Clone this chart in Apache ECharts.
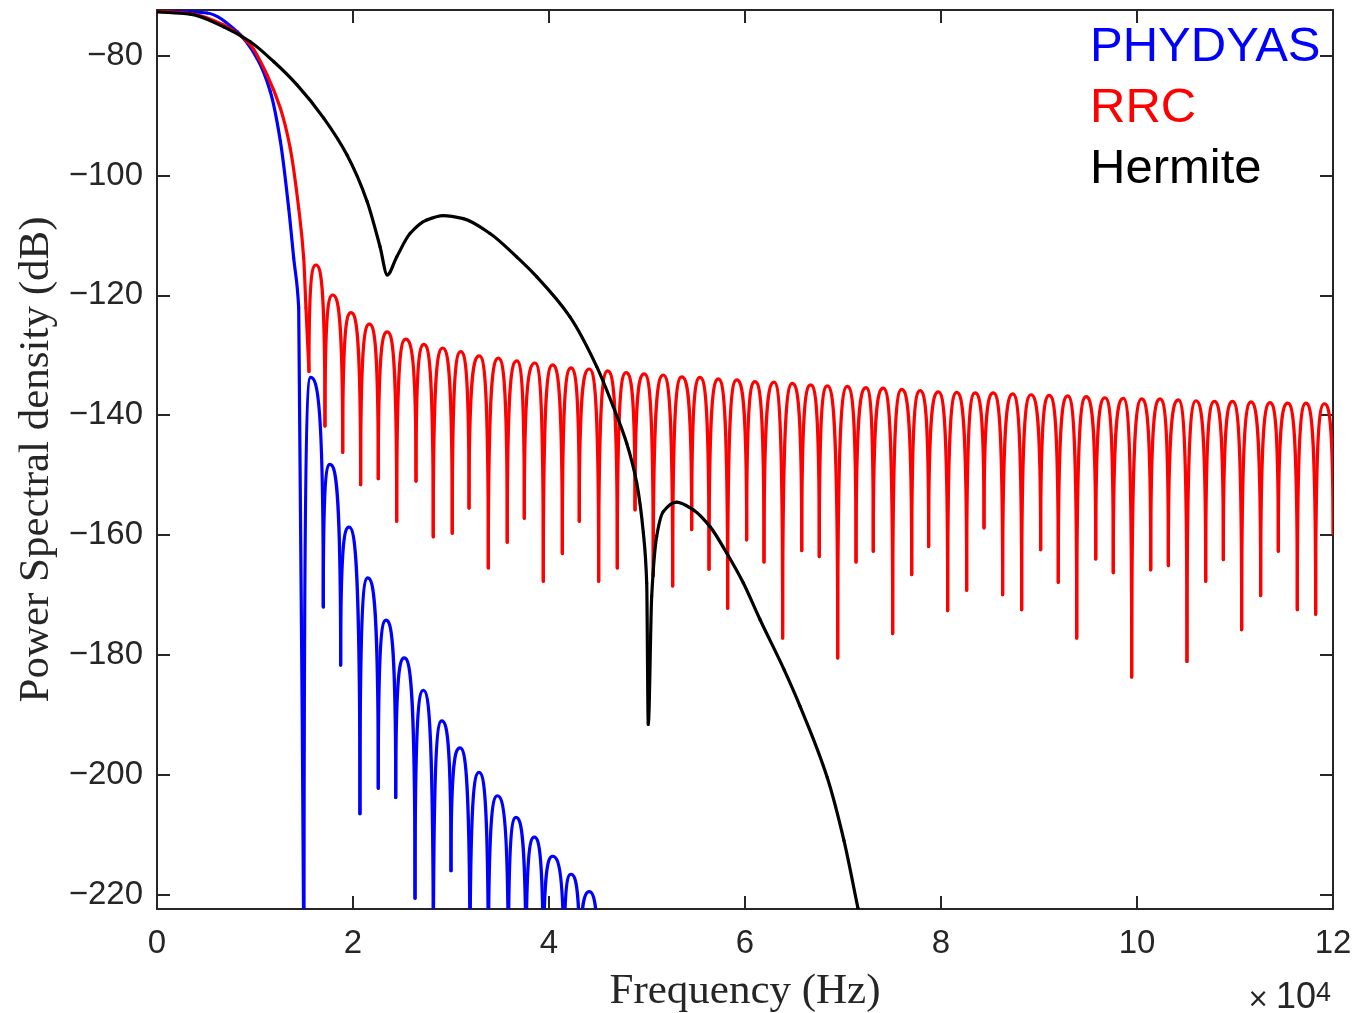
<!DOCTYPE html>
<html>
<head>
<meta charset="utf-8">
<script src="https://cdn.jsdelivr.net/npm/echarts@6/dist/echarts.min.js"></script>
<style>
  html, body { margin: 0; padding: 0; background: #ffffff; }
  #chart { width: 1357px; height: 1013px; }
</style>
</head>
<body>
<div id="chart"></div>
<script>
// Frequencies are in units of 10^4 Hz, levels in dB.

// Hermite pulse spectrum
const hermiteF = [0, 0.34, 0.68, 0.952, 1.19, 1.429, 1.701, 1.939, 2.143, 2.276, 2.35, 2.446, 2.582, 2.752,
  2.922, 3.126, 3.398, 3.67, 3.874, 4.214, 4.487, 4.656, 4.793, 4.895, 4.963, 4.997, 5.013, 5.048, 5.099,
  5.166, 5.303, 5.473, 5.643, 5.813, 5.983, 6.153, 6.40, 6.56, 6.84, 7.01, 7.153, 7.25];
const hermiteDb = [-72.7, -73.1, -75.2, -77.7, -81.0, -84.9, -90.45, -96.6, -104.3, -111.9, -116.6, -113.6,
  -109.7, -107.45, -106.7, -107.2, -109.7, -113.6, -116.9, -123.6, -131.9, -138.6, -144.7, -151.3, -159.7,
  -168.0, -191.6, -170.2, -160.2, -156.1, -154.5, -155.8, -158.6, -163.0, -168.0, -174.1, -182.5, -188.5,
  -200.5, -211.0, -222.3, -230.0];

// PHYDYAS: main lobe, then side lobes (nulls bracket each peak; -235 means below the axis floor)
const phydyasMainF = [0, 0.51, 0.816, 1.02, 1.156, 1.259, 1.344, 1.395, 1.446, 1.5];
const phydyasMainDb = [-72.5, -72.9, -76.0, -80.45, -86.0, -94.3, -105.5, -113.8, -122.1, -235];
const phydyasNullF = [1.5, 1.697, 1.874, 2.071, 2.258, 2.436, 2.633, 2.82, 3.0, 3.194, 3.381, 3.585, 3.765,
  3.942, 4.153, 4.316, 4.5];
const phydyasNullDb = [-235, -172.0, -181.7, -206.5, -202.25, -203.8, -220.6, -235, -216.0, -235, -235, -235,
  -235, -235, -235, -235, -235];
const phydyasPeakF = [1.568, 1.765, 1.959, 2.15, 2.337, 2.524, 2.718, 2.905, 3.092, 3.286, 3.473, 3.663, 3.85,
  4.037, 4.224, 4.411];
const phydyasPeakDb = [-133.7, -148.2, -158.7, -167.15, -174.2, -180.5, -185.9, -191.0, -195.5, -199.6, -203.5,
  -207.1, -210.4, -213.6, -216.6, -219.5];

// RRC: main lobe, then side lobes
const rrcMainF = [0, 0.34, 0.68, 0.952, 1.122, 1.259, 1.36, 1.446, 1.497, 1.52, 1.551];
const rrcMainDb = [-72.6, -73.0, -74.9, -78.2, -83.2, -88.8, -95.5, -105.5, -113.8, -122.1, -132.7];
const rrcNullF = [1.551, 1.714, 1.895, 2.078, 2.258, 2.446, 2.643, 2.819, 3.013, 3.184, 3.381, 3.574, 3.748,
  3.942, 4.136, 4.309, 4.507, 4.697, 4.878, 5.064, 5.262, 5.456, 5.633, 5.823, 6.017, 6.194, 6.384, 6.579,
  6.758, 6.946, 7.133, 7.309, 7.507, 7.701, 7.874, 8.068, 8.262, 8.439, 8.629, 8.823, 9.017, 9.197, 9.385,
  9.579, 9.758, 9.946, 10.14, 10.32, 10.51, 10.701, 10.881, 11.068, 11.262, 11.442, 11.636, 11.823, 12.0];
const rrcNullDb = [-132.7, -141.8, -146.2, -151.6, -150.6, -157.7, -151.0, -160.3, -159.7, -155.5, -165.5,
  -161.2, -157.2, -167.7, -163.1, -157.7, -167.7, -165.5, -155.8, -166.8, -168.5, -159.1, -165.7, -172.2,
  -160.8, -164.5, -177.2, -162.6, -163.6, -180.5, -164.5, -162.7, -176.45, -166.6, -161.9, -172.6, -169.2,
  -158.8, -169.95, -172.45, -162.45, -167.9, -177.2, -164.0, -166.3, -183.7, -165.8, -165.1, -181.1, -167.7,
  -164.1, -175.8, -170.1, -162.7, -172.45, -173.2, -159.8];
const rrcPeakF = [1.622, 1.793, 1.98, 2.167, 2.35, 2.537, 2.724, 2.915, 3.099, 3.289, 3.483, 3.67, 3.857,
  4.037, 4.224, 4.411, 4.599, 4.786, 4.972, 5.166, 5.354, 5.541, 5.728, 5.915, 6.102, 6.296, 6.483, 6.67,
  6.84, 7.044, 7.235, 7.411, 7.599, 7.786, 7.973, 8.16, 8.347, 8.534, 8.732, 8.918, 9.105, 9.293, 9.48,
  9.673, 9.86, 10.048, 10.235, 10.422, 10.602, 10.789, 10.976, 11.163, 11.357, 11.538, 11.724, 11.911];
const rrcPeakDb = [-114.95, -119.95, -122.9, -124.8, -126.1, -127.3, -128.2, -128.8, -129.4, -130.1, -130.5,
  -130.95, -131.3, -131.6, -132.1, -132.3, -132.6, -132.9, -133.1, -133.3, -133.6, -133.7, -133.95, -134.1,
  -134.4, -134.5, -134.7, -134.95, -135.1, -135.2, -135.4, -135.5, -135.7, -135.9, -136.1, -136.2, -136.3,
  -136.3, -136.45, -136.6, -136.7, -136.8, -136.9, -137.1, -137.2, -137.3, -137.3, -137.45, -137.6, -137.7,
  -137.7, -137.8, -137.9, -138.0, -138.0, -138.1];

// Axis ticks
const xTicks = [0, 2, 4, 6, 8, 10, 12];
const yTicks = [-220, -200, -180, -160, -140, -120, -100, -80];
const xRange = [0, 12];
const yRange = [-222.4, -72.4];

const BLUE = '#0000ff', RED = '#ff0000', BLACK = '#000000', AXIS = '#262626';
const LINE_W = 3.2;

// Monotone (Fritsch–Butland) slopes so the smooth curve never overshoots between readings
function slopes(xs, ys) {
  const n = xs.length, d = [], m = [];
  for (let i = 0; i < n - 1; i++) d.push((ys[i + 1] - ys[i]) / (xs[i + 1] - xs[i]));
  m[0] = d[0];
  m[n - 1] = d[n - 2];
  for (let i = 1; i < n - 1; i++) {
    if (d[i - 1] * d[i] <= 0) { m[i] = 0; continue; }
    const h0 = xs[i] - xs[i - 1], h1 = xs[i + 1] - xs[i];
    const w1 = 2 * h1 + h0, w2 = h1 + 2 * h0;
    m[i] = (w1 + w2) / (w1 / d[i - 1] + w2 / d[i]);
  }
  return m;
}
// One item per curve segment: start, end, and the slope at each end
function segments(xs, ys) {
  const m = slopes(xs, ys);
  return xs.slice(0, -1).map((x, i) => [x, ys[i], xs[i + 1], ys[i + 1], m[i], m[i + 1]]);
}
// One item per side lobe: left null, peak, right null
function lobes(nullF, nullDb, peakF, peakDb) {
  return peakF.map((f, i) => [nullF[i], nullDb[i], f, peakDb[i], nullF[i + 1], nullDb[i + 1]]);
}

function clipRect(params) {
  const cs = params.coordSys;
  return { type: 'rect', shape: { x: cs.x, y: cs.y, width: cs.width, height: cs.height } };
}
function strokeStyle(color) {
  return { stroke: color, lineWidth: LINE_W, fill: 'none', lineJoin: 'round', lineCap: 'round' };
}
const pt = p => p[0] + ' ' + p[1];

// Smooth curve segment (cubic Hermite mapped through the axes)
function curveRenderer(color) {
  return function (params, api) {
    const x0 = api.value(0), y0 = api.value(1), x1 = api.value(2), y1 = api.value(3);
    const m0 = api.value(4), m1 = api.value(5), h = (x1 - x0) / 3;
    const a = api.coord([x0, y0]), c1 = api.coord([x0 + h, y0 + m0 * h]);
    const c2 = api.coord([x1 - h, y1 - m1 * h]), b = api.coord([x1, y1]);
    return {
      type: 'path', silent: true,
      shape: { pathData: 'M' + pt(a) + ' C' + pt(c1) + ' ' + pt(c2) + ' ' + pt(b) },
      style: strokeStyle(color), clipPath: clipRect(params)
    };
  };
}

// Side lobe shape: steep walls leaving each null, rounded crown at the peak
const RISE = 0.9, CROWN = 0.55;
function lobeRenderer(color) {
  return function (params, api) {
    const a = api.coord([api.value(0), api.value(1)]);
    const p = api.coord([api.value(2), api.value(3)]);
    const b = api.coord([api.value(4), api.value(5)]);
    const d = 'M' + pt(a) +
      ' C' + a[0] + ' ' + (a[1] + (p[1] - a[1]) * RISE) + ' ' +
      (p[0] - (p[0] - a[0]) * CROWN) + ' ' + p[1] + ' ' + pt(p) +
      ' C' + (p[0] + (b[0] - p[0]) * CROWN) + ' ' + p[1] + ' ' +
      b[0] + ' ' + (b[1] + (p[1] - b[1]) * RISE) + ' ' + pt(b);
    return {
      type: 'path', silent: true,
      shape: { pathData: d },
      style: strokeStyle(color), clipPath: clipRect(params)
    };
  };
}

function curveSeries(name, color, xs, ys) {
  return {
    name, type: 'custom', data: segments(xs, ys), encode: { x: [0, 2], y: [1, 3] },
    itemStyle: { color }, renderItem: curveRenderer(color), silent: true
  };
}
function lobeSeries(name, color, items) {
  return {
    name, type: 'custom', data: items, encode: { x: [0, 2, 4], y: [1, 3, 5] },
    itemStyle: { color }, renderItem: lobeRenderer(color), silent: true
  };
}

const tickFont = { fontFamily: 'Liberation Sans, Arial, sans-serif', fontSize: 33, color: AXIS };
const titleFont = { fontFamily: 'Liberation Serif, Times New Roman, serif', fontSize: 43, color: AXIS };
const tickText = v => (v < 0 ? '\u2212' + Math.abs(v) : String(v));

const chart = echarts.init(document.getElementById('chart'), null, { renderer: 'canvas' });
chart.setOption({
  animation: false,
  backgroundColor: '#ffffff',
  grid: { left: 157, right: 24, top: 10, bottom: 104, containLabel: false, outerBoundsMode: 'none' },
  legend: {
    orient: 'vertical', left: 1085, top: 23, padding: 0, itemGap: 12,
    itemWidth: 0, itemHeight: 0, icon: 'rect', selectedMode: false,
    itemStyle: { opacity: 0 }, lineStyle: { opacity: 0 },
    textStyle: { fontFamily: 'Liberation Sans, Arial, sans-serif', fontSize: 49, lineHeight: 48, padding: 0 },
    data: [
      { name: 'PHYDYAS', textStyle: { color: BLUE } },
      { name: 'RRC', textStyle: { color: RED } },
      { name: 'Hermite', textStyle: { color: BLACK } }
    ]
  },
  xAxis: [
    {
      type: 'value', position: 'bottom', min: xRange[0], max: xRange[1], interval: 2,
      name: 'Frequency (Hz)', nameLocation: 'middle', nameGap: 61, nameTextStyle: titleFont,
      axisLine: { onZero: false, lineStyle: { color: AXIS, width: 2 } },
      axisTick: { inside: true, length: 13, lineStyle: { color: AXIS, width: 2 }, customValues: xTicks },
      axisLabel: Object.assign({ margin: 18, customValues: xTicks, formatter: tickText }, tickFont),
      splitLine: { show: false }
    },
    {
      type: 'value', position: 'top', min: xRange[0], max: xRange[1], interval: 2,
      axisLine: { onZero: false, lineStyle: { color: AXIS, width: 2 } },
      axisTick: { inside: true, length: 13, lineStyle: { color: AXIS, width: 2 }, customValues: xTicks },
      axisLabel: { show: false }, splitLine: { show: false }
    }
  ],
  yAxis: [
    {
      type: 'value', position: 'left', min: yRange[0], max: yRange[1],
      name: 'Power Spectral density (dB)', nameLocation: 'middle', nameGap: 99, nameRotate: 90,
      nameTextStyle: titleFont,
      axisLine: { onZero: false, lineStyle: { color: AXIS, width: 2 } },
      axisTick: { inside: true, length: 13, lineStyle: { color: AXIS, width: 2 }, customValues: yTicks },
      axisLabel: Object.assign({ margin: 14, customValues: yTicks, formatter: tickText }, tickFont),
      splitLine: { show: false }
    },
    {
      type: 'value', position: 'right', min: yRange[0], max: yRange[1],
      axisLine: { onZero: false, lineStyle: { color: AXIS, width: 2 } },
      axisTick: { inside: true, length: 13, lineStyle: { color: AXIS, width: 2 }, customValues: yTicks },
      axisLabel: { show: false }, splitLine: { show: false }
    }
  ],
  graphic: [{
    type: 'text', x: 1331, y: 1016,
    style: {
      text: '{t|×}{b|10}{s|4}', align: 'right', verticalAlign: 'bottom',
      rich: {
        t: { fontFamily: 'DejaVu Sans, sans-serif', fontSize: 26, fill: AXIS, verticalAlign: 'bottom', padding: [0, 7, 3, 0] },
        b: { fontFamily: 'Liberation Sans, Arial, sans-serif', fontSize: 36, fill: AXIS, verticalAlign: 'bottom' },
        s: { fontFamily: 'Liberation Sans, Arial, sans-serif', fontSize: 27, fill: AXIS, verticalAlign: 'top' }
      }
    }
  }],
  series: [
    curveSeries('PHYDYAS', BLUE, phydyasMainF, phydyasMainDb),
    lobeSeries('PHYDYAS', BLUE, lobes(phydyasNullF, phydyasNullDb, phydyasPeakF, phydyasPeakDb)),
    curveSeries('RRC', RED, rrcMainF, rrcMainDb),
    lobeSeries('RRC', RED, lobes(rrcNullF, rrcNullDb, rrcPeakF, rrcPeakDb)),
    curveSeries('Hermite', BLACK, hermiteF, hermiteDb)
  ]
});
</script>
</body>
</html>
